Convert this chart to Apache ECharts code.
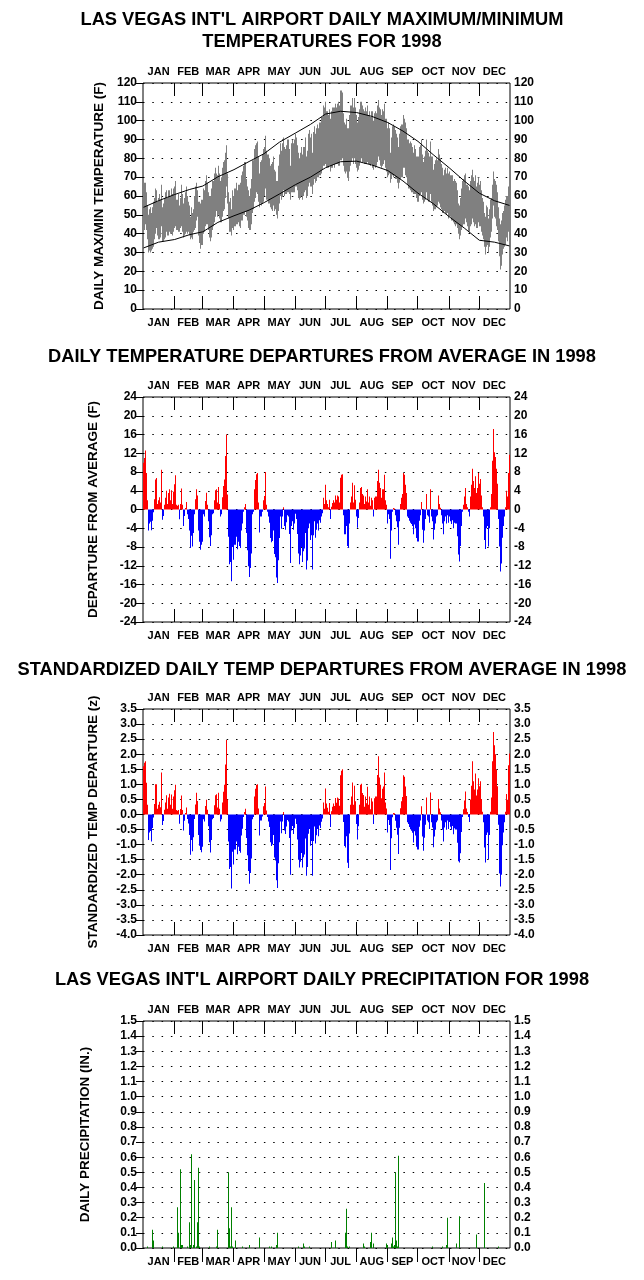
<!DOCTYPE html>
<html><head><meta charset="utf-8">
<script src="https://cdn.jsdelivr.net/npm/echarts@6/dist/echarts.min.js"></script>
<style>html,body{margin:0;padding:0;background:#fff}#c{width:644px;height:1280px}</style>
</head><body><div id="c"></div>
<script>
const months = ['JAN','FEB','MAR','APR','MAY','JUN','JUL','AUG','SEP','OCT','NOV','DEC'];
const monthStart = [0,31,59,90,120,151,181,212,243,273,304,334,365];

const tmax = [
64,67,67,62,55,50,53,54,51,54,57,59,64,63,57,59,61,58,66,54,56,59,62,63,59,63,63,60,64,61,64,
65,68,58,58,61,55,59,66,61,56,59,62,65,60,57,55,49,54,51,53,60,65,67,63,57,57,56,58,
58,64,63,68,71,67,62,60,60,64,68,68,72,75,72,71,76,72,68,70,75,78,79,83,87,72,62,57,59,53,63,
60,64,67,63,66,66,67,71,73,76,78,78,69,65,63,60,64,69,79,79,85,87,88,89,81,72,78,79,82,85,
86,92,84,82,82,80,76,77,78,81,74,73,68,68,76,82,88,84,88,91,86,85,87,90,90,85,76,88,90,88,90,
93,91,87,83,80,83,86,82,86,86,91,81,84,93,95,91,93,83,94,97,93,96,98,96,99,99,102,102,108,107,
110,105,105,103,106,101,105,107,107,107,109,107,109,110,108,116,116,115,104,99,98,101,96,96,103,108,108,112,107,112,107,
103,99,102,106,110,110,108,106,105,107,105,108,103,105,102,105,105,100,104,105,104,108,111,107,106,103,106,105,109,101,101,
96,99,96,83,91,97,98,97,95,93,91,86,93,97,98,98,103,101,99,96,90,90,88,89,88,86,83,87,85,81,
81,86,87,90,82,78,81,84,90,84,83,81,89,81,81,74,77,79,80,79,85,82,80,77,75,71,74,75,72,75,72,
73,71,71,71,68,69,68,67,63,56,55,59,64,68,69,71,72,66,66,65,63,68,71,74,70,68,71,65,67,70,
66,68,63,59,57,51,49,55,54,48,53,58,59,66,73,69,68,66,62,54,48,45,47,51,52,55,58,60,60,65,68
];
const tmin = [
42,42,45,42,37,30,31,30,31,32,33,37,40,43,39,37,37,38,44,36,36,37,38,41,39,39,41,40,40,39,41,
43,44,42,42,41,41,43,44,41,38,39,40,41,40,41,39,37,38,37,41,42,43,47,49,39,35,32,34,
34,40,41,44,45,45,42,38,36,38,42,44,46,49,52,49,50,48,46,46,49,52,53,59,65,56,48,41,41,39,43,
42,44,45,45,46,44,43,47,47,50,50,52,49,47,43,42,42,45,51,53,57,59,62,61,57,54,56,55,56,57,
60,64,58,58,56,56,54,53,52,55,52,53,50,48,52,56,60,58,60,63,60,61,61,62,62,61,58,62,62,62,62,
65,65,63,59,58,59,60,58,60,62,63,59,60,65,67,65,65,61,66,69,67,68,70,70,71,71,72,74,76,76,
77,75,75,75,76,73,75,75,77,75,77,77,77,76,76,79,79,80,76,73,72,73,70,68,73,76,78,80,77,80,77,
75,73,74,76,78,80,78,78,77,77,77,78,77,77,76,77,75,74,76,75,76,78,81,79,76,75,76,77,79,75,73,
70,71,72,67,69,71,70,71,69,69,67,64,67,69,70,70,75,75,71,70,66,64,64,63,62,62,61,61,61,59,
57,60,61,62,58,56,57,58,62,58,57,57,61,57,55,52,53,53,54,55,57,56,54,53,51,51,52,51,50,51,48,
49,49,47,47,46,45,44,45,43,40,37,39,42,44,45,45,48,46,44,41,41,44,45,48,46,44,45,43,43,46,
44,44,41,39,37,33,29,33,34,30,33,38,41,48,55,49,48,44,42,36,28,21,23,29,32,33,34,38,36,41,44
];

const normDays = [0,15,31,46,59,74,90,105,120,135,151,166,181,196,212,227,243,258,273,288,304,319,334,349,364];
const normMax = [54,57.5,60.8,63.5,65.3,70.2,74,78.3,82.5,88.5,93.4,98,103.5,105,104.3,102.3,99,94.5,89,82,75,68,61.5,57.5,55];
const normMin = [32.4,35.5,36.9,39.5,41,46,49.5,52.5,56.5,61,66,70,75,78.2,78.5,76.5,73.5,68,61.5,56,49,43,36.5,35.5,33.5];

const dep = [
10,11,12.6,7.8,2,-4.5,-3,-2.6,-4.4,-2.4,-0.6,2.2,6.4,6.7,1.2,2,2.6,1.5,8.5,-2.2,-1.4,1,2.5,4,1.2,3.5,4.3,2,4.1,1.2,3.8,
5.4,7.3,1,0.8,1,-2.1,1.2,4.5,1,-3.5,-1.4,0.3,1.6,-1,-2,-4.5,-8.2,-5.6,-7.9,-5,-1,2.2,4.3,3,-4.5,-6.9,-8.6,-7.5,
-6.9,-1,-1.5,1.8,3.6,1,-2.5,-5.9,-7.8,-5.5,-1,-0.8,2,4.1,4.3,1.5,4.8,1.2,-1.5,-1,2.6,5,6.4,11.4,16,3.2,-5.8,-11.7,-11.2,-15.3,-8,
-10.7,-7.5,-5.8,-8.5,-6.9,-7.8,-8.2,-4.5,-3,-0.5,0.5,1.2,-5,-8.7,-12.1,-14.4,-12.5,-9.4,-1,-0.5,4.3,6.3,7.5,7.8,1.5,-4.9,-1.5,-1.5,-0.5,2,
2.9,8,1,-0.5,-1.5,-2.8,-6.1,-7,-6.7,-4.5,-9.5,-10.2,-14.5,-15.7,-10.8,-6.1,-1.5,-4.1,-1.5,0.5,-3.5,-4.3,-2.7,-1.2,-1.5,-5.2,-11.4,-3.5,-2.5,-4.3,-3,
-0.9,-2,-5.2,-9.4,-11.7,-9.8,-8,-11.2,-8.9,-8.3,-5,-12.8,-10.9,-4,-3,-6.5,-5.5,-12.8,-5.5,-2.5,-6,-4.3,-3,-4.5,-2.3,-2.8,-1.5,-0.8,2.5,1.2,
5.3,2,1.2,0.5,2.1,-2,0.6,1.4,2,1.5,3,2.1,3,2.8,1.5,6.8,7.4,7.5,-1.2,-5.3,-5.3,-3.5,-7.8,-8.2,-3,1.5,2.8,5.7,1.5,5.2,2.1,
-1.5,-3.9,-1.8,1.5,4.6,4.8,3.3,3,1.2,2.8,1.7,4.3,1.5,2.8,0.8,2.5,2,-1.5,2.5,2.8,2.8,6.1,8.5,5.7,4.6,2.5,4.3,4.3,7.4,2,1,
-3,-1,-2,-10.5,-4.5,-0.5,0.3,0.2,-1.2,-2.5,-3.8,-7.5,-2.5,1.2,2.5,3.3,7.8,7.4,5.3,3.5,-1.5,-1.8,-2.4,-2.8,-3.1,-3.5,-5.3,-3.2,-4,-6.1,
-6.8,-2.4,-1.2,1.6,-4.3,-7.1,-4.5,-2,3.3,-1.2,-1.5,-2.8,4.3,-1.5,-2.5,-6.4,-4.3,-3,-1.5,-1.2,3,1.2,0.4,-1.2,-3,-5.3,-2.5,-1.5,-3,-1.2,-2.8,
-1.5,-2.5,-3.1,-2.3,-4,-2.8,-3,-3,-5.7,-9.6,-11.1,-7.8,-3.5,-0.5,1,2.8,4.6,1.2,0.5,-0.5,-1.5,2.8,5.3,8.7,6.1,4.6,7.1,3.5,4.6,7.8,
5.5,6.5,3,0.5,-1.5,-6.5,-8.4,-4,-3.5,-7.9,-4,0.5,3.3,10.4,17.2,12.2,11.2,8.7,5.5,-2,-7.9,-13.2,-11.5,-6,-3.5,-1.5,0.5,4,2.8,7.8,11.7
];

const zdep = [
1.6,1.72,1.77,1.05,0.32,-0.85,-0.6,-0.55,-0.9,-0.45,-0.1,0.35,1.0,1.0,0.19,0.32,0.42,0.24,1.39,-0.35,-0.22,0.16,0.4,0.64,0.19,0.56,0.69,0.32,0.66,0.19,0.6,
0.8,0.99,0.15,0.12,0.15,-0.31,0.18,0.63,0.15,-0.53,-0.21,0.05,0.23,-0.15,-0.3,-0.68,-1.34,-0.85,-1.22,-0.76,-0.15,0.33,0.72,0.45,-0.68,-1.04,-1.18,-1.25,
-1.07,-0.16,-0.23,0.28,0.49,0.16,-0.39,-0.92,-1.26,-0.85,-0.16,-0.12,0.31,0.64,0.67,0.23,0.72,0.19,-0.23,-0.16,0.4,0.75,0.99,1.66,2.47,0.5,-0.9,-1.81,-1.74,-2.46,-1.24,
-1.66,-1.16,-0.9,-1.32,-1.07,-1.21,-1.27,-0.7,-0.47,-0.08,0.08,0.19,-0.78,-1.35,-1.88,-2.3,-1.94,-1.46,-0.16,-0.08,0.6,0.85,0.98,1.0,0.2,-0.7,-0.2,-0.2,-0.07,0.27,
0.38,0.93,0.13,-0.08,-0.23,-0.42,-0.92,-1.05,-1.0,-0.68,-1.43,-1.53,-2.18,-2.44,-1.62,-0.92,-0.23,-0.62,-0.23,0.08,-0.53,-0.65,-0.4,-0.18,-0.23,-0.78,-2.0,-0.53,-0.38,-0.65,-0.45,
-0.14,-0.32,-0.83,-1.5,-1.76,-1.57,-1.28,-1.76,-1.42,-1.33,-0.8,-2.03,-1.74,-0.64,-0.48,-1.04,-0.88,-2.03,-0.88,-0.4,-0.96,-0.69,-0.48,-0.72,-0.37,-0.45,-0.24,-0.13,0.4,0.19,
0.86,0.36,0.22,0.09,0.38,-0.42,0.11,0.26,0.36,0.28,0.55,0.39,0.56,0.53,0.29,1.3,1.45,1.5,-0.25,-1.05,-1.1,-0.72,-1.6,-1.78,-0.63,0.32,0.6,1.06,0.32,0.95,0.44,
-0.32,-0.83,-0.39,0.32,0.99,1.02,0.71,0.65,0.26,0.6,0.37,0.92,0.32,0.6,0.17,0.54,0.43,-0.32,0.54,0.6,0.6,1.31,1.93,1.23,0.99,0.54,0.85,0.93,1.39,0.4,0.2,
-0.6,-0.18,-0.35,-1.84,-0.79,-0.09,0.05,0.04,-0.21,-0.44,-0.67,-1.31,-0.44,0.21,0.44,0.58,1.3,1.25,0.93,0.61,-0.26,-0.32,-0.42,-0.49,-0.54,-0.61,-0.93,-0.56,-0.7,-1.07,
-1.16,-0.41,-0.2,0.27,-0.73,-1.2,-0.77,-0.34,0.56,-0.2,-0.26,-0.48,0.73,-0.26,-0.43,-1.09,-0.73,-0.51,-0.26,-0.2,0.51,0.2,0.07,-0.2,-0.51,-0.9,-0.43,-0.26,-0.51,-0.2,-0.48,
-0.25,-0.41,-0.51,-0.38,-0.66,-0.46,-0.5,-0.5,-0.94,-1.55,-1.59,-1.29,-0.58,-0.08,0.17,0.46,0.76,0.2,0.08,-0.08,-0.25,0.5,0.95,1.77,1.1,0.83,1.36,0.63,0.83,1.2,
0.94,1.1,0.51,0.09,-0.26,-1.1,-1.59,-0.68,-0.6,-1.48,-0.68,0.09,0.56,1.77,2.74,2.3,2.0,1.48,0.94,-0.34,-1.96,-2.39,-2.0,-1.02,-0.6,-0.26,0.09,0.68,0.48,1.63,2.02
];

const precipDay = [3,8,9,18,29,33,34,36,37,38,43,45,46,47,49,50,52,53,54,55,65,72,73,84,85,86,87,88,91,98,105,115,125,127,132,133,154,159,160,165,186,190,200,201,202,204,218,219,225,226,228,241,242,246,247,248,249,250,251,252,253,287,297,301,302,311,314,331,339,353];
const precipIn = [0.01,0.12,0.05,0.01,0.01,0.27,0.1,0.52,0.02,0.02,0.01,0.17,0.02,0.62,0.02,0.45,0.01,0.17,0.53,0.01,0.01,0.01,0.12,0.5,0.13,0.01,0.27,0.01,0.05,0.01,0.02,0.07,0.01,0.01,0.02,0.1,0.01,0.03,0.01,0.01,0.04,0.05,0.1,0.26,0.01,0.01,0.03,0.01,0.04,0.1,0.03,0.03,0.02,0.03,0.07,0.01,0.02,0.5,0.05,0.01,0.61,0.01,0.01,0.02,0.2,0.03,0.21,0.09,0.43,0.01];

const FONT = '"Liberation Sans", Arial, Helvetica, sans-serif';
const mids = months.map((m, i) => (monthStart[i] + monthStart[i + 1]) / 2);
const bounds = monthStart.slice(1, 12);

const grids = [
  {left: 143, top: 83, width: 367, height: 226},
  {left: 143, top: 397, width: 367, height: 225},
  {left: 143, top: 709, width: 367, height: 226},
  {left: 143, top: 1021, width: 367, height: 227}
].map(g => Object.assign(g, {show: true, borderColor: '#000', borderWidth: 1, backgroundColor: 'transparent'}));

function monthLabel(v) {
  for (let i = 0; i < mids.length; i++) if (Math.abs(mids[i] - v) < 0.01) return months[i];
  return '';
}
function xAx(gi, pos, margin) {
  return {
    type: 'value', gridIndex: gi, position: pos, min: 0, max: 365,
    axisLine: {show: false},
    axisTick: {show: false},
    axisLabel: {show: true, customValues: mids, formatter: monthLabel, fontFamily: FONT, fontWeight: 'bold', fontSize: 11, color: '#000', margin: margin},
    splitLine: {show: false}
  };
}
const panels = [
  {min: 0, max: 120, step: 10, dec: 0, name: 'DAILY MAX/MIN TEMPERATURE (F)', gap: 33, tickOut: false},
  {min: -24, max: 24, step: 4, dec: 0, name: 'DEPARTURE FROM AVERAGE (F)', gap: 43, tickOut: false},
  {min: -4, max: 3.5, step: 0.5, dec: 1, name: 'STANDARDIZED TEMP DEPARTURE (z)', gap: 43, tickOut: false},
  {min: 0, max: 1.5, step: 0.1, dec: 1, name: 'DAILY PRECIPITATION (IN.)', gap: 51, tickOut: true}
];
const xAxes = [], yAxes = [];
panels.forEach((p, gi) => {
  xAxes.push(xAx(gi, 'bottom', gi === 3 ? 8 : 8));
  xAxes.push(xAx(gi, 'top', 6));
  const lab = {fontFamily: FONT, fontWeight: 'bold', fontSize: 12, color: '#000', formatter: v => (+v).toFixed(p.dec)};
  yAxes.push({
    type: 'value', gridIndex: gi, position: 'left', min: p.min, max: p.max, interval: p.step,
    axisLine: {show: false}, axisTick: {show: false},
    axisLabel: Object.assign({margin: 6}, lab),
    splitLine: {show: true, lineStyle: {color: '#000', width: 1, type: [1.5, 7.8]}},
    name: p.name, nameLocation: 'middle', nameRotate: 90, nameGap: p.gap,
    nameTextStyle: {fontFamily: FONT, fontWeight: 'bold', fontSize: 13.5, color: '#000'}
  });
  yAxes.push({
    type: 'value', gridIndex: gi, position: 'right', min: p.min, max: p.max, interval: p.step,
    axisLine: {show: false},
    axisTick: {show: true, inside: true, length: 7, lineStyle: {color: '#000', width: 1}},
    axisLabel: Object.assign({margin: 4}, lab),
    splitLine: {show: false}
  });
});

function rangeRender(colorFn, narrow) {
  return function (params, api) {
    const d = api.value(0), lo = api.value(1), hi = api.value(2);
    let xl, xr;
    if (narrow) {
      xl = Math.round(api.coord([d + 0.5, 0])[0]);
      xr = xl + 1;
    } else {
      xl = Math.round(api.coord([d, 0])[0]);
      xr = Math.max(xl + 1, Math.round(api.coord([d + 1, 0])[0]));
    }
    const a = api.coord([d, lo])[1], b = api.coord([d, hi])[1];
    return {type: 'rect', shape: {x: xl, y: Math.min(a, b), width: xr - xl, height: Math.max(1, Math.abs(b - a))},
      style: {fill: colorFn(hi)}};
  };
}
const signColor = v => (v >= 0 ? '#ff0000' : '#0000ff');

function tickRender(p) {
  return function (params, api) {
    const b = api.value(0);
    const bot = api.coord([b, p.min]);
    const top = api.coord([b, p.max]);
    const x = Math.round(bot[0]) + 0.5;
    const st = {stroke: '#000', lineWidth: 1};
    return {type: 'group', children: [
      {type: 'line', shape: {x1: x, y1: top[1], x2: x, y2: top[1] + 13}, style: st},
      {type: 'line', shape: {x1: x, y1: bot[1], x2: x, y2: p.tickOut ? bot[1] + 14 : bot[1] - 13}, style: st}
    ]};
  };
}

const series = [
  {type: 'custom', xAxisIndex: 0, yAxisIndex: 0, renderItem: rangeRender(() => '#808080'),
    encode: {x: 0, y: [1, 2]}, data: tmax.map((v, i) => [i, tmin[i], v]), clip: true, z: 2},
  {type: 'line', xAxisIndex: 0, yAxisIndex: 0, data: normDays.map((d, i) => [d + 0.5, normMax[i]]),
    showSymbol: false, symbol: 'none', lineStyle: {color: '#000', width: 1}, z: 3, silent: true},
  {type: 'line', xAxisIndex: 0, yAxisIndex: 0, data: normDays.map((d, i) => [d + 0.5, normMin[i]]),
    showSymbol: false, symbol: 'none', lineStyle: {color: '#000', width: 1}, z: 3, silent: true},
  {type: 'custom', xAxisIndex: 2, yAxisIndex: 2, renderItem: rangeRender(signColor),
    encode: {x: 0, y: [1, 2]}, data: dep.map((v, i) => [i, 0, v]), clip: true, z: 2},
  {type: 'custom', xAxisIndex: 4, yAxisIndex: 4, renderItem: rangeRender(signColor),
    encode: {x: 0, y: [1, 2]}, data: zdep.map((v, i) => [i, 0, v]), clip: true, z: 2},
  {type: 'custom', xAxisIndex: 6, yAxisIndex: 6, renderItem: rangeRender(() => '#008000', true),
    encode: {x: 0, y: [1, 2]}, data: precipDay.map((d, i) => [d, 0, precipIn[i]]), clip: true, z: 2}
];
panels.forEach((p, gi) => {
  series.push({type: 'custom', xAxisIndex: 2 * gi, yAxisIndex: 2 * gi, renderItem: tickRender(p),
    encode: {x: 0, y: 1}, data: bounds.map(b => [b, p.min]), clip: false, z: 4, silent: true});
});

const titleStyle = {fontFamily: FONT, fontWeight: 'bold', fontSize: 18.3, color: '#000', lineHeight: 22};
const chart = echarts.init(document.getElementById('c'), null, {renderer: 'canvas'});
chart.setOption({
  animation: false,
  backgroundColor: '#fff',
  title: [
    {text: "LAS VEGAS INT'L AIRPORT DAILY MAXIMUM/MINIMUM\nTEMPERATURES FOR 1998", left: 'center', top: 4, textStyle: Object.assign({align: 'center'}, titleStyle)},
    {text: 'DAILY TEMPERATURE DEPARTURES FROM AVERAGE IN 1998', left: 'center', top: 341, textStyle: titleStyle},
    {text: 'STANDARDIZED DAILY TEMP DEPARTURES FROM AVERAGE IN 1998', left: 'center', top: 654, textStyle: titleStyle},
    {text: "LAS VEGAS INT'L AIRPORT DAILY PRECIPITATION FOR 1998", left: 'center', top: 964, textStyle: titleStyle}
  ],
  grid: grids,
  xAxis: xAxes,
  yAxis: yAxes,
  series: series
});
</script>
</body></html>
